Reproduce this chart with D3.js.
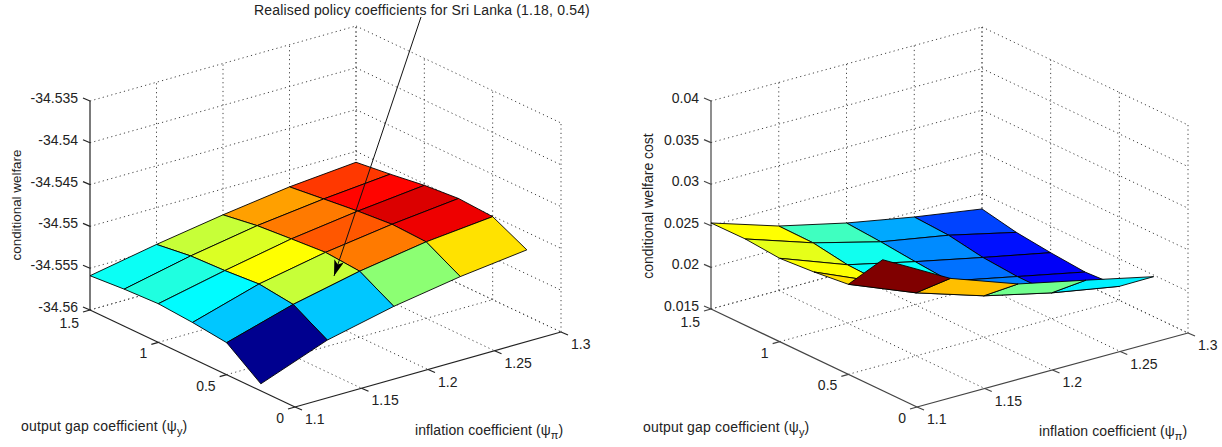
<!DOCTYPE html>
<html>
<head>
<meta charset="utf-8">
<script src="https://cdn.jsdelivr.net/npm/d3@7"></script>
<style>
  html, body { margin: 0; padding: 0; background: #fff; }
  text { font-family: "Liberation Sans", Arial, sans-serif; fill: #222; }
</style>
</head>
<body>
<div id="chart"></div>
<script>
// grid the surfaces were computed on
const inflationCoef = [1.1, 1.15, 1.2, 1.25, 1.3];
const outputGapCoef = [0.25, 0.5, 0.75, 1, 1.25, 1.5];

// rows follow outputGapCoef, columns follow inflationCoef
const welfare = [
  [-34.55916, -34.55617, -34.55438, -34.55306, -34.55211],
  [-34.55617, -34.55384, -34.55211, -34.55084, -34.55007],
  [-34.55569, -34.55333, -34.55179, -34.55067, -34.54983],
  [-34.55538, -34.55366, -34.55211, -34.55103, -34.55019],
  [-34.55557, -34.55384, -34.55246, -34.55151, -34.55079],
  [-34.5559, -34.5544, -34.5531, -34.552, -34.5513],
];
const welfareCost = [
  [0.03074, 0.02627, 0.02338, 0.02161, 0.01981],
  [0.02582, 0.02257, 0.01999, 0.01812, 0.01668],
  [0.02534, 0.02185, 0.01981, 0.01812, 0.01644],
  [0.02502, 0.02202, 0.02017, 0.01845, 0.0168],
  [0.02538, 0.02269, 0.02059, 0.01916, 0.01728],
  [0.02534, 0.02275, 0.02089, 0.01939, 0.01813],
];

const xTicks = [1.1, 1.15, 1.2, 1.25, 1.3];
const yTicks = [0, 0.5, 1, 1.5];
const welfareTicks = [-34.56, -34.555, -34.55, -34.545, -34.54, -34.535];
const costTicks = [0.015, 0.02, 0.025, 0.03, 0.035, 0.04];

const annotation = "Realised policy coefficients for Sri Lanka (1.18, 0.54)";

const width = 1222;
const height = 447;

const svg = d3
  .select("#chart")
  .append("svg")
  .attr("width", width)
  .attr("height", height)
  .style("display", "block");

svg
  .append("defs")
  .append("marker")
  .attr("id", "arrow-head")
  .attr("viewBox", "0 -5 16 10")
  .attr("refX", 16)
  .attr("refY", 0)
  .attr("markerUnits", "userSpaceOnUse")
  .attr("markerWidth", 16)
  .attr("markerHeight", 10)
  .attr("orient", "auto")
  .append("path")
  .attr("d", "M0,-5L16,0L0,5L4,0Z")
  .attr("fill", "#000");

// matlab jet colormap stops
const jet = d3
  .scaleLinear()
  .domain([0, 0.125, 0.375, 0.625, 0.875, 1])
  .range(["#00008f", "#0000ff", "#00ffff", "#ffff00", "#ff0000", "#800000"])
  .clamp(true);

function drawPanel(opts) {
  const g = svg.append("g");
  const zTicks = opts.zTicks;
  const zDomain = d3.extent(zTicks);

  // oblique 3d axes, each one a scale from data to pixel offset along it
  const sx = d3.scaleLinear().domain([1.1, 1.3]).range([0, 1]);
  const sy = d3.scaleLinear().domain([1.5, 0]).range([0, 1]);
  const sz = d3.scaleLinear().domain(zDomain).range([0, opts.zHeight]);

  const project = (x, y, z) => [
    opts.origin[0] + sx(x) * opts.xVec[0] + sy(y) * opts.yVec[0],
    opts.origin[1] + sx(x) * opts.xVec[1] + sy(y) * opts.yVec[1] - sz(z),
  ];

  const zMin = zDomain[0];
  const zMax = zDomain[1];
  const xMax = 1.3;
  const grid = g.append("g");

  function dotted(a, b) {
    grid
      .append("line")
      .attr("x1", a[0])
      .attr("y1", a[1])
      .attr("x2", b[0])
      .attr("y2", b[1])
      .attr("stroke", "#444")
      .attr("stroke-width", 1)
      .attr("stroke-dasharray", "1.2,3.2");
  }

  // height lines around the two back walls
  zTicks.forEach((z) => {
    dotted(project(1.1, 1.5, z), project(xMax, 1.5, z));
    dotted(project(xMax, 1.5, z), project(xMax, 0, z));
  });
  // x ticks go up the wall and across the floor
  xTicks.slice(1).forEach((x) => {
    dotted(project(x, 1.5, zMin), project(x, 1.5, zMax));
    dotted(project(x, 1.5, zMin), project(x, 0, zMin));
  });
  yTicks.forEach((y) => {
    dotted(project(xMax, y, zMin), project(xMax, y, zMax));
    if (y !== 0) dotted(project(1.1, y, zMin), project(xMax, y, zMin));
  });

  // solid axes
  const axisLine = (a, b) =>
    g
      .append("line")
      .attr("x1", a[0])
      .attr("y1", a[1])
      .attr("x2", b[0])
      .attr("y2", b[1])
      .attr("stroke", opts.axisColor)
      .attr("stroke-width", 1.2);

  axisLine(project(1.1, 1.5, zMin), project(1.1, 1.5, zMax));
  axisLine(project(1.1, 1.5, zMin), project(1.1, 0, zMin));
  axisLine(project(1.1, 0, zMin), project(xMax, 0, zMin));

  const tickLabel = (p, dx, dy, anchor, label) =>
    g
      .append("text")
      .attr("x", p[0] + dx)
      .attr("y", p[1] + dy)
      .attr("text-anchor", anchor)
      .attr("font-size", 14)
      .text(label);

  zTicks.forEach((z) => {
    const p = project(1.1, 1.5, z);
    axisLine(p, [p[0] - 7, p[1] - 3]);
    tickLabel(p, -12, 2, "end", z);
  });
  yTicks.forEach((y) => {
    const p = project(1.1, y, zMin);
    axisLine(p, [p[0] - 7, p[1] + 2]);
    tickLabel(p, -11, y === 1.5 ? 18 : 16, "end", y);
  });
  xTicks.forEach((x) => {
    const p = project(x, 0, zMin);
    axisLine(p, [p[0] + 7, p[1] + 3]);
    tickLabel(p, 10, 17, "start", x);
  });

  // surface: back cells first, colour taken from the low x, low y corner
  const values = opts.values;
  const colorRange = d3.extent(values.flat());
  const color = (z) => jet((z - colorRange[0]) / (colorRange[1] - colorRange[0]));

  const cells = [];
  for (let r = outputGapCoef.length - 2; r >= 0; r--) {
    for (let c = inflationCoef.length - 2; c >= 0; c--) {
      cells.push({ r, c });
    }
  }

  g.append("g")
    .selectAll("path")
    .data(cells)
    .join("path")
    .attr("d", (d) => {
      const corners = [
        [d.r, d.c],
        [d.r, d.c + 1],
        [d.r + 1, d.c + 1],
        [d.r + 1, d.c],
      ];
      const pts = corners.map(([r, c]) =>
        project(inflationCoef[c], outputGapCoef[r], values[r][c])
      );
      return "M" + pts.join("L") + "Z";
    })
    .attr("fill", (d) => color(values[d.r][d.c]))
    .attr("stroke", "#000")
    .attr("stroke-width", 0.9)
    .attr("stroke-linejoin", "round");

  // axis titles
  g.append("text")
    .attr("transform", `translate(${opts.zTitle[0]},${opts.zTitle[1]}) rotate(-90)`)
    .attr("text-anchor", "middle")
    .attr("font-size", opts.zLabelSize)
    .text(opts.zLabel);

  const yTitle = g
    .append("text")
    .attr("x", opts.yTitle[0])
    .attr("y", opts.yTitle[1])
    .attr("font-size", 14)
    .attr("letter-spacing", 0.18)
    .text("output gap coefficient (ψ");
  yTitle.append("tspan").attr("dy", 4).attr("font-size", 11).text("y");
  yTitle.append("tspan").attr("dy", -4).text(")");

  const xTitle = g
    .append("text")
    .attr("x", opts.xTitle[0])
    .attr("y", opts.xTitle[1])
    .attr("font-size", 14)
    .attr("letter-spacing", 0.1)
    .text("inflation coefficient (ψ");
  xTitle.append("tspan").attr("dy", 4).attr("font-size", 11).text("π");
  xTitle.append("tspan").attr("dy", -4).text(")");
}

drawPanel({
  origin: [90, 310],
  xVec: [266, -75],
  yVec: [205, 97],
  zHeight: 209,
  zTicks: welfareTicks,
  values: welfare,
  axisColor: "#222",
  zLabel: "conditional welfare",
  zLabelSize: 13.4,
  zTitle: [21, 205],
  yTitle: [21, 431],
  xTitle: [415, 435],
});

drawPanel({
  origin: [711, 309],
  xVec: [271, -74],
  yVec: [206, 98],
  zHeight: 208,
  zTicks: costTicks,
  values: welfareCost,
  axisColor: "#444",
  zLabel: "conditional welfare cost",
  zLabelSize: 14,
  zTitle: [653, 206],
  yTitle: [643, 432],
  xTitle: [1039, 436],
});

// callout on the left panel
svg
  .append("text")
  .attr("x", 254)
  .attr("y", 15)
  .attr("font-size", 14)
  .attr("letter-spacing", 0.17)
  .text(annotation);

svg
  .append("line")
  .attr("x1", 421)
  .attr("y1", 17)
  .attr("x2", 334)
  .attr("y2", 276)
  .attr("stroke", "#111")
  .attr("stroke-width", 1)
  .attr("marker-end", "url(#arrow-head)");
</script>
</body>
</html>
